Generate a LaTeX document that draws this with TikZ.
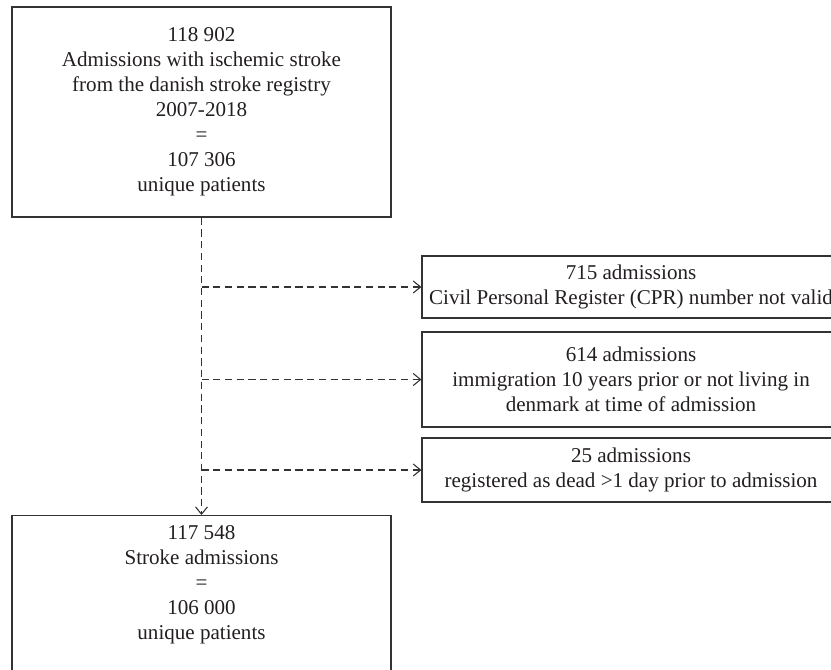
\documentclass[tikz,border=0pt]{standalone}
\usepackage{fontspec}
\setmainfont{Liberation Serif}
\usetikzlibrary{arrows.meta}
\definecolor{linec}{HTML}{333333}
\definecolor{textc}{HTML}{231F20}
\tikzset{
  box/.style={draw=linec, line width=0.9pt, rectangle, inner sep=0pt, align=center,
    text=textc, font=\fontsize{15.8}{18.75}\selectfont},
  txt/.style={inner sep=0pt, align=center, text=textc, font=\fontsize{15.8}{18.75}\selectfont},
  flow/.style={draw=linec, line width=0.8pt, dash pattern=on 5.4pt off 3.4pt},
  tip/.style={-{Straight Barb[length=5.5pt,width=9pt,line width=0.8pt]}}
}
\begin{document}
\begin{tikzpicture}[x=0.75pt,y=-0.75pt]
\useasboundingbox (0,0) rectangle (831,669);
\clip (0,0) rectangle (831,669);
% top box
\node[box, minimum width=284.25pt, minimum height=157.5pt] (top) at (201.5,112)
  {118 902\\Admissions with ischemic stroke\\from the danish stroke registry\\2007-2018\\=\\107 306\\unique patients};
% exclusion boxes
\node[box, minimum width=313.5pt, minimum height=46.5pt] (b1) at (631,287)
  {715 admissions\\Civil Personal Register (CPR) number not valid};
\node[box, minimum width=313.5pt, minimum height=71.25pt] (b2) at (631,379.5)
  {614 admissions\\immigration 10 years prior or not living in\\denmark at time of admission};
\node[box, minimum width=313.5pt, minimum height=48pt] (b3) at (631,470)
  {25 admissions\\registered as dead >1 day prior to admission};
% bottom box
\node[box, anchor=north, minimum width=284.25pt, minimum height=150pt] (bot) at (201.5,515) {};
\node[txt] (bottxt) at (201.5,585)
  {117 548\\Stroke admissions\\=\\106 000\\unique patients};
% connectors
\draw[flow, tip] (top.south) -- (bot.north);
\draw[flow, tip] (top.south |- b1.west) -- (b1.west);
\draw[flow, tip] (top.south |- b2.west) -- (b2.west);
\draw[flow, tip] (top.south |- b3.west) -- (b3.west);
\end{tikzpicture}
\end{document}
